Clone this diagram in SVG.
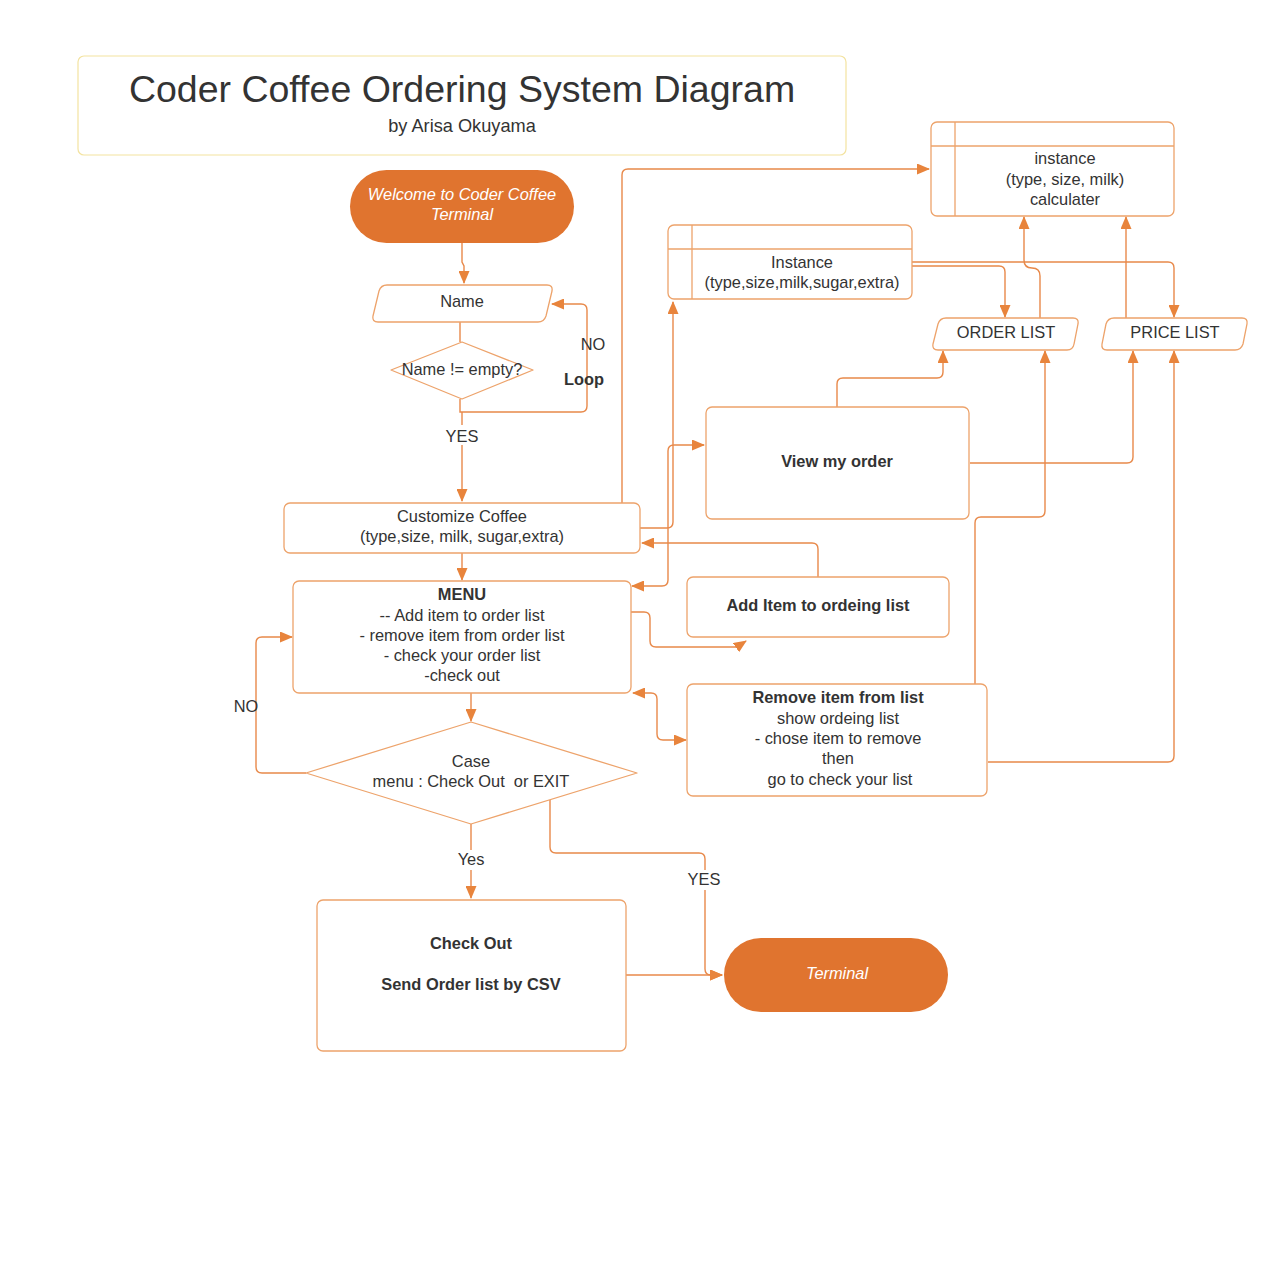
<svg xmlns="http://www.w3.org/2000/svg" width="1285" height="1275" viewBox="0 0 1285 1275">
<defs>
<style>
text{font-family:"Liberation Sans",Arial,sans-serif;fill:#333;font-size:16.4px;text-anchor:middle}
.b{font-weight:bold}
.it{font-style:italic;fill:#fff}
.node{fill:#fff;stroke:#eda36b;stroke-width:1.3}
.term{fill:#e0742f;stroke:none}
.c{fill:none;stroke:#e8894a;stroke-width:1.4}
</style>
<marker id="ah" viewBox="0 0 13 11" refX="12" refY="5.5" markerWidth="13" markerHeight="11" orient="auto-start-reverse" markerUnits="userSpaceOnUse"><path d="M0,0 L13,5.5 L0,11 z" fill="#e8843c"/></marker>
</defs>
<rect width="1285" height="1275" fill="#fff"/>

<g id="title">
<rect x="78" y="56" width="768" height="99" rx="6" fill="#fff" stroke="#f3e3a0" stroke-width="1.2"/>
<text x="462" y="102" style="font-size:37.5px">Coder Coffee Ordering System Diagram</text>
<text x="462" y="132" style="font-size:18.2px">by Arisa Okuyama</text>
</g>

<g id="connectors">
<path class="c" d="M462,243 V262 L464,266 V283" marker-end="url(#ah)"/>
<path class="c" d="M460,322 V342"/>
<path class="c" d="M460,399 V412 H581 Q587,412 587,406 V310 Q587,304 581,304 H552" marker-end="url(#ah)"/>
<path class="c" d="M462,412 V501" marker-end="url(#ah)"/>
<path class="c" d="M462,553 V580" marker-end="url(#ah)"/>
<path class="c" d="M471,693 V721" marker-end="url(#ah)"/>
<path class="c" d="M306,773 H262 Q256,773 256,767 V643 Q256,637 262,637 H292" marker-end="url(#ah)"/>
<path class="c" d="M471,824 V898" marker-end="url(#ah)"/>
<path class="c" d="M550,800 V847 Q550,853 556,853 H699 Q705,853 705,859 V969 Q705,975 711,975 H722" marker-end="url(#ah)"/>
<path class="c" d="M626,975 H722" marker-end="url(#ah)"/>
<path class="c" d="M622,503 V175 Q622,169 628,169 H929" marker-end="url(#ah)"/>
<path class="c" d="M640,528 H667 Q673,528 673,522 V302" marker-end="url(#ah)"/>
<path class="c" d="M632,586 H662 Q668,586 668,580 V451 Q668,445 674,445 H704" marker-start="url(#ah)" marker-end="url(#ah)"/>
<path class="c" d="M818,577 V549 Q818,543 812,543 H642" marker-end="url(#ah)"/>
<path class="c" d="M631,612 H644 Q650,612 650,618 V641 Q650,647 656,647 H737 L746,641" marker-end="url(#ah)"/>
<path class="c" d="M633,693 H651 Q657,693 657,699 V734 Q657,740 663,740 H686" marker-start="url(#ah)" marker-end="url(#ah)"/>
<path class="c" d="M837,407 V384 Q837,378 843,378 H937 Q943,378 943,372 V351" marker-end="url(#ah)"/>
<path class="c" d="M970,463 H1127 Q1133,463 1133,457 V351" marker-end="url(#ah)"/>
<path class="c" d="M975,684 V523 Q975,517 981,517 H1039 Q1045,517 1045,511 V351" marker-end="url(#ah)"/>
<path class="c" d="M988,762 H1168 Q1174,762 1174,756 V351" marker-end="url(#ah)"/>
<path class="c" d="M912,266 H999 Q1005,266 1005,272 V317" marker-end="url(#ah)"/>
<path class="c" d="M912,262 H1168 Q1174,262 1174,268 V317" marker-end="url(#ah)"/>
<path class="c" d="M1040,318 V276 Q1040,268 1032,268 Q1024,268 1024,260 V217" marker-end="url(#ah)"/>
<path class="c" d="M1126,318 V217" marker-end="url(#ah)"/>
<rect x="448" y="425" width="28" height="20" fill="#fff"/>
<text x="462" y="442">YES</text>
<text x="593" y="350">NO</text>
<text x="584" y="385" class="b">Loop</text>
<text x="246" y="712">NO</text>
<rect x="455" y="850" width="32" height="20" fill="#fff"/>
<text x="471" y="865">Yes</text>
<rect x="687" y="870" width="36" height="20" fill="#fff"/>
<text x="704" y="885">YES</text>
</g>

<g id="welcome">
<rect class="term" x="350" y="170" width="224" height="73" rx="36.5"/>
<text x="462" y="200" class="it">Welcome to Coder Coffee</text>
<text x="462" y="220" class="it">Terminal</text>
</g>

<g id="name">
<path class="node" d="M387,285 H547 Q553,285 552,291 L546,316 Q544,322 538,322 H378 Q372,322 373,316 L379,291 Q381,285 387,285 Z"/>
<text x="462" y="307">Name</text>
</g>

<g id="name-check">
<polygon class="node" stroke-linejoin="round" points="462,342 533,370 462,399 391,370"/>
<text x="462" y="375">Name != empty?</text>
</g>

<g id="customize">
<rect class="node" x="284" y="503" width="356" height="50" rx="6"/>
<text x="462" y="522">Customize Coffee</text>
<text x="462" y="542">(type,size, milk, sugar,extra)</text>
</g>

<g id="menu">
<rect class="node" x="293" y="581" width="338" height="112" rx="6"/>
<text x="462" y="600" class="b">MENU</text>
<text x="462" y="621">-- Add item to order list</text>
<text x="462" y="641">- remove item from order list</text>
<text x="462" y="661">- check your order list</text>
<text x="462" y="681">-check out</text>
</g>

<g id="case">
<polygon class="node" stroke-linejoin="round" points="471,722 637,773 471,824 306,773"/>
<text x="471" y="767">Case</text>
<text x="471" y="787">menu : Check Out&#160; or EXIT</text>
</g>

<g id="checkout">
<rect class="node" x="317" y="900" width="309" height="151" rx="6"/>
<text x="471" y="949" class="b">Check Out</text>
<text x="471" y="990" class="b">Send Order list by CSV</text>
</g>

<g id="terminal">
<rect class="term" x="724" y="938" width="224" height="74" rx="37"/>
<text x="837" y="979" class="it">Terminal</text>
</g>

<g id="instance-calc">
<rect class="node" x="931" y="122" width="243" height="94" rx="6"/>
<line x1="931" y1="146" x2="1174" y2="146" stroke="#eda36b" stroke-width="1.3"/>
<line x1="955" y1="122" x2="955" y2="216" stroke="#eda36b" stroke-width="1.3"/>
<text x="1065" y="164">instance</text>
<text x="1065" y="185">(type, size, milk)</text>
<text x="1065" y="205">calculater</text>
</g>

<g id="instance">
<rect class="node" x="668" y="225" width="244" height="74" rx="6"/>
<line x1="668" y1="249" x2="912" y2="249" stroke="#eda36b" stroke-width="1.3"/>
<line x1="692" y1="225" x2="692" y2="299" stroke="#eda36b" stroke-width="1.3"/>
<text x="802" y="268">Instance</text>
<text x="802" y="288">(type,size,milk,sugar,extra)</text>
</g>

<g id="order-list">
<path class="node" d="M946,318 H1073 Q1079,318 1078,324 L1074,344 Q1073,350 1067,350 H938 Q932,350 933,344 L938,324 Q940,318 946,318 Z"/>
<text x="1006" y="338">ORDER LIST</text>
</g>

<g id="price-list">
<path class="node" d="M1114,318 H1242 Q1248,318 1247,324 L1243,344 Q1241,350 1235,350 H1107 Q1101,350 1102,344 L1106,324 Q1108,318 1114,318 Z"/>
<text x="1175" y="338">PRICE LIST</text>
</g>

<g id="view-order">
<rect class="node" x="706" y="407" width="263" height="112" rx="6"/>
<text x="837" y="467" class="b">View my order</text>
</g>

<g id="add-item">
<rect class="node" x="687" y="577" width="262" height="60" rx="6"/>
<text x="818" y="611" class="b">Add Item to ordeing list</text>
</g>

<g id="remove-item">
<rect class="node" x="687" y="684" width="300" height="112" rx="6"/>
<text x="838" y="703" class="b">Remove item from list</text>
<text x="838" y="724">show ordeing list</text>
<text x="838" y="744">- chose item to remove</text>
<text x="838" y="764">then</text>
<text x="840" y="785">go to check your list</text>
</g>
</svg>
